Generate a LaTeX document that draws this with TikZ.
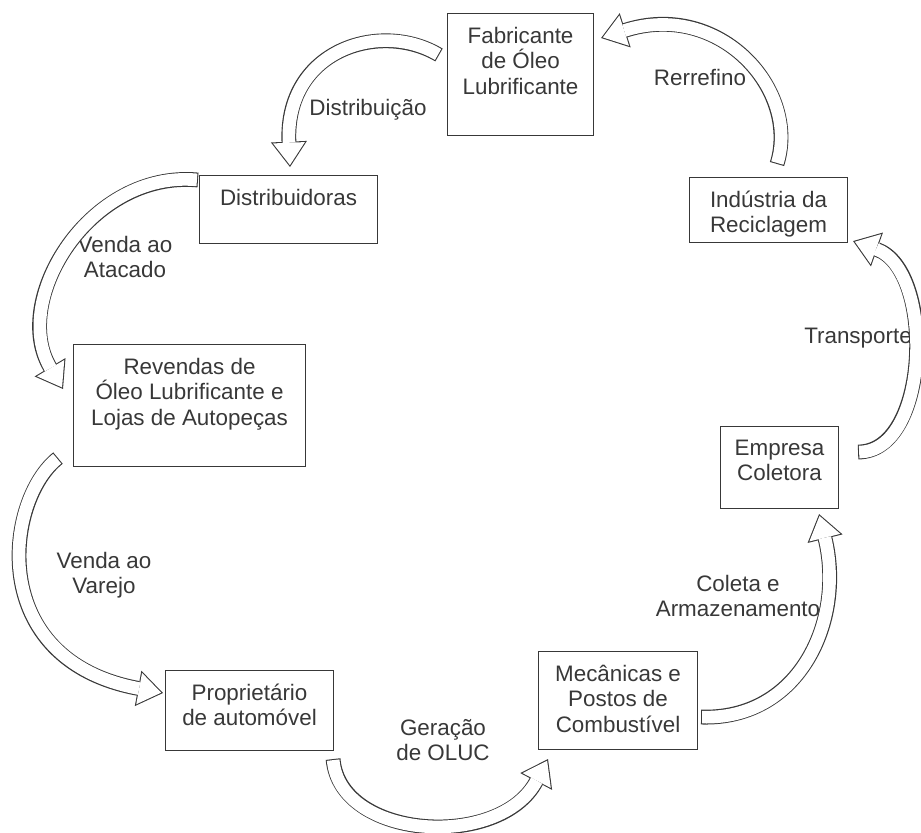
\documentclass[tikz,border=0pt]{standalone}
\usepackage{fontspec}
\setmainfont{Liberation Sans}
\usetikzlibrary{arrows.meta,calc}
\definecolor{inkgray}{gray}{0.22}
\tikzset{
  stage/.style 2 args={draw=inkgray, line width=0.8pt, inner sep=0pt, anchor=north west,
    execute at begin node={\begin{minipage}[t][#2][t]{#1}\centering\vspace*{10pt}},
    execute at end node={\end{minipage}}},
  tag/.style={align=center, text=inkgray, inner sep=0pt},
  flow/.style={white, line width=9.5pt, shorten <=0.8pt, shorten >=1.4pt,
    -{Triangle[length=16.8pt, width=23.9pt, line width=0pt, fill=white, color=white]},
    preaction={draw=inkgray, line width=11.1pt, shorten <=0pt, shorten >=0pt,
      -{Triangle[length=19pt, width=27pt, line width=0pt, fill=inkgray, color=inkgray]}}}
}
\begin{document}
\begin{tikzpicture}[x=0.75pt, y=-0.75pt, every node/.style={font=\fontsize{16.8}{19.2}\selectfont, text=inkgray}]
        \useasboundingbox (0,0) rectangle (921,832);
        % boxes
        \node[stage={109.5pt}{91.5pt}] (fab) at (447,13) {Fabricante\\de Óleo\\Lubrificante};
        \node[stage={118.5pt}{48.75pt}] (ind) at (689,177) {Indústria da\\Reciclagem};
        \node[stage={133.5pt}{51pt}] (dist) at (199,175) {Distribuidoras};
        \node[stage={174pt}{91.5pt}] (rev) at (73,344) {Revendas de\\Óleo Lubrificante e\\Lojas de Autopeças};
        \node[stage={88.5pt}{61.5pt}] (emp) at (720,426) {Empresa\\Coletora};
        \node[stage={119.25pt}{73.5pt}] (mec) at (538,651) {Mecânicas e\\Postos de\\Combustível};
        \node[stage={126pt}{60pt}] (prop) at (165,670) {Proprietário\\de automóvel};
        % labels
        \node[tag] (distlbl) at (368,110) {Distribuição};
        \node[tag] (rerlbl) at (700,77) {Rerrefino};
        \node[tag] (atalbl) at (125,257) {Venda ao\\Atacado};
        \node[tag] (varlbl) at (104,575) {Venda ao\\Varejo};
        \node[tag] (trlbl) at (858,338) {Transporte};
        \node[tag] (collbl) at (738,596) {Coleta e\\Armazenamento};
        \node[tag] (gerlbl) at (443,740) {Geração\\de OLUC};
        % arrows
        \draw[flow] ($(fab.north west)+(-8,42)$) .. controls (380,20) and (285,50) .. ($(dist.north west)+(91,-8)$);
        \draw[flow] ($(dist.north west)+(-1,5)$) .. controls (90,170) and (10,300) .. ($(rev.north west)+(-10,45)$);
        \draw[flow] ($(rev.south west)+(-15,-9)$) .. controls (5,500) and (-15,660) .. ($(prop.north west)+(-2,23)$);
        \draw[flow] ($(prop.south east)+(-1,8)$) .. controls (340,840) and (500,850) .. ($(mec.south west)+(10,9)$);
        \draw[flow] ($(mec.south east)+(3,-33)$) .. controls (800,720) and (845,620) .. ($(emp.south east)+(-20,5)$);
        \draw[flow] ($(emp.north east)+(19,26)$) .. controls (930,452) and (935,270) .. ($(ind.south east)+(5,-2)$);
        \draw[flow] ($(ind.north west)+(88,-13)$) .. controls (800,90) and (720,0) .. ($(fab.north east)+(7,25)$);
\end{tikzpicture}
\end{document}
